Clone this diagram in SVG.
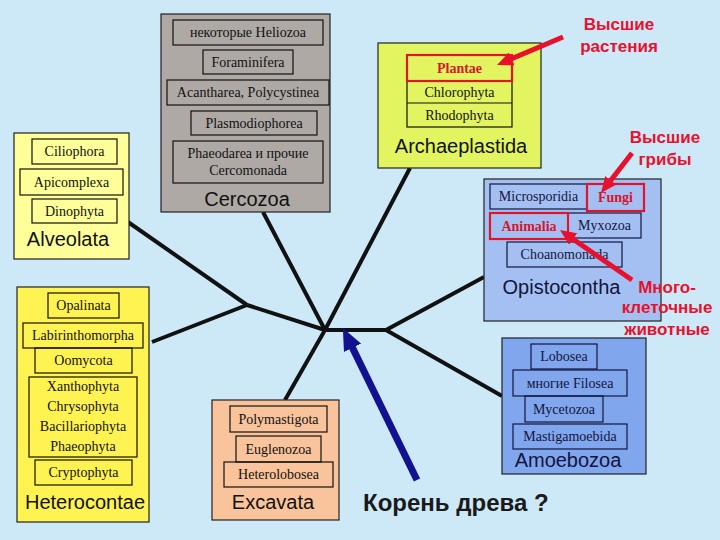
<svg xmlns="http://www.w3.org/2000/svg" width="720" height="540" viewBox="0 0 720 540">
<defs>
<style>
.bg{fill:#cde9f8}
.ob{stroke:#222;stroke-width:1.2}
.ib{fill:none;stroke:#111;stroke-width:1.2}
.ibn{fill:none;stroke:#14143c;stroke-width:1.2}
.rb{fill:none;stroke:#e0142a;stroke-width:2.2}
.t{font-family:"Liberation Serif","Times New Roman",serif;font-size:14px;fill:#111;text-anchor:middle}
.tn{fill:#14143c}
.tr{fill:#d8152c;font-weight:bold}
.big{font-family:"Liberation Sans",Arial,sans-serif;font-size:20px;fill:#111;text-anchor:middle}
.bign{fill:#14143c}
.ann{font-family:"Liberation Sans",Arial,sans-serif;font-size:17px;font-weight:bold;fill:#e8112d;text-anchor:middle}
.br{fill:none;stroke:#111;stroke-width:4}
.ra{fill:none;stroke:#e8112d;stroke-width:5;marker-end:url(#rh)}
.ba{fill:none;stroke:#121290;stroke-width:7;marker-end:url(#bh)}
</style>
<marker id="rh" markerUnits="userSpaceOnUse" markerWidth="16" markerHeight="14" viewBox="0 0 16 14" refX="6" refY="7" orient="auto"><path d="M0,0 L16,7 L0,14 z" fill="#e8112d"/></marker>
<marker id="bh" markerUnits="userSpaceOnUse" markerWidth="22" markerHeight="19" viewBox="0 0 22 19" refX="8" refY="9.5" orient="auto"><path d="M0,0 L22,9.5 L0,19 z" fill="#121290"/></marker>
</defs>
<rect class="bg" x="0" y="0" width="720" height="540"/>

<g id="connectors">
<line class="br" x1="128" y1="222" x2="247" y2="305"/>
<line class="br" x1="152" y1="342" x2="247" y2="305"/>
<line class="br" x1="247" y1="305" x2="325" y2="330"/>
<line class="br" x1="263" y1="212" x2="325" y2="330"/>
<line class="br" x1="410" y1="168" x2="325" y2="330"/>
<line class="br" x1="325" y1="330" x2="285" y2="400"/>
<line class="br" x1="325" y1="330" x2="386" y2="330"/>
<line class="br" x1="386" y1="330" x2="484" y2="277"/>
<line class="br" x1="386" y1="330" x2="502" y2="396"/>
<line class="ba" x1="417" y1="480" x2="349" y2="340.6"/>
</g>

<g id="cercozoa">
<rect class="ob" x="161" y="14" width="169" height="198" fill="#aea9a5"/>
<rect class="ib" x="173" y="20" width="150" height="25"/>
<text class="t" x="248" y="37">некоторые Heliozoa</text>
<rect class="ib" x="203" y="50" width="90" height="24"/>
<text class="t" x="248" y="66.5">Foraminifera</text>
<rect class="ib" x="167" y="80" width="162" height="25"/>
<text class="t" x="248" y="97">Acantharea, Polycystinea</text>
<rect class="ib" x="191" y="111" width="126" height="24"/>
<text class="t" x="254" y="127.5">Plasmodiophorea</text>
<rect class="ib" x="173" y="141" width="150" height="42"/>
<text class="t" x="248" y="158">Phaeodarea и прочие</text>
<text class="t" x="248" y="175">Cercomonada</text>
<text class="big" x="247" y="206">Cercozoa</text>
</g>

<g id="alveolata">
<rect class="ob" x="14" y="133" width="115" height="126" fill="#ffff99"/>
<rect class="ib" x="32" y="139" width="85" height="25"/>
<text class="t" x="74.5" y="156">Ciliophora</text>
<rect class="ib" x="20" y="169" width="103" height="26"/>
<text class="t" x="71.5" y="186.5">Apicomplexa</text>
<rect class="ib" x="32" y="199" width="85" height="24"/>
<text class="t" x="74.5" y="215.5">Dinophyta</text>
<text class="big" x="68" y="246">Alveolata</text>
</g>

<g id="archaeplastida">
<rect class="ob" x="378" y="43" width="163" height="125" fill="#e2f460"/>
<rect class="ib" x="407" y="81" width="105" height="46"/>
<line x1="407" y1="103" x2="512" y2="103" stroke="#111" stroke-width="1.2"/>
<rect class="rb" x="407" y="55" width="105" height="26"/>
<text class="t tr" x="459.5" y="72.5">Plantae</text>
<text class="t" x="459.5" y="96.5">Chlorophyta</text>
<text class="t" x="459.5" y="119.5">Rhodophyta</text>
<text class="big" x="461" y="153">Archaeplastida</text>
</g>

<g id="opistocontha">
<rect class="ob" x="484" y="179" width="177" height="142" fill="#a4c0f2"/>
<rect class="ibn" x="490" y="184" width="97" height="25"/>
<text class="t tn" x="538.5" y="201">Microsporidia</text>
<rect class="ibn" x="568" y="213" width="73" height="25"/>
<text class="t tn" x="604.5" y="230">Myxozoa</text>
<rect class="ibn" x="507" y="242" width="115" height="25"/>
<text class="t tn" x="564.5" y="259">Choanomonada</text>
<rect class="rb" x="587" y="184" width="57" height="27"/>
<text class="t tr" x="615.5" y="202">Fungi</text>
<rect class="rb" x="490" y="213" width="78" height="26"/>
<text class="t tr" x="529" y="230.5">Animalia</text>
<text class="big bign" x="561.5" y="294">Opistocontha</text>
</g>

<g id="heterocontae">
<rect class="ob" x="17" y="287" width="132" height="235" fill="#fff352"/>
<rect class="ib" x="48" y="293" width="71" height="25"/>
<text class="t" x="83.5" y="310">Opalinata</text>
<rect class="ib" x="23" y="323" width="120" height="25"/>
<text class="t" x="83" y="340">Labirinthomorpha</text>
<rect class="ib" x="35" y="348" width="97" height="25"/>
<text class="t" x="83.5" y="365">Oomycota</text>
<rect class="ib" x="29" y="377" width="108" height="80"/>
<text class="t" x="83" y="390.5">Xanthophyta</text>
<text class="t" x="83" y="410.5">Chrysophyta</text>
<text class="t" x="83" y="430.5">Bacillariophyta</text>
<text class="t" x="83" y="450.5">Phaeophyta</text>
<rect class="ib" x="35" y="460" width="97" height="25"/>
<text class="t" x="83.5" y="477">Cryptophyta</text>
<text class="big" x="85" y="509">Heterocontae</text>
</g>

<g id="excavata">
<rect class="ob" x="212" y="400" width="127" height="120" fill="#f9c49b"/>
<rect class="ib" x="230" y="406" width="97" height="26"/>
<text class="t" x="278.5" y="423.5">Polymastigota</text>
<rect class="ib" x="236" y="436" width="85" height="26"/>
<text class="t" x="278.5" y="453.5">Euglenozoa</text>
<rect class="ib" x="224" y="462" width="109" height="25"/>
<text class="t" x="278.5" y="479">Heterolobosea</text>
<text class="big" x="273" y="509">Excavata</text>
</g>

<g id="amoebozoa">
<rect class="ob" x="502" y="338" width="144" height="136" fill="#80a6ee"/>
<rect class="ibn" x="531" y="344" width="66" height="25"/>
<text class="t tn" x="564" y="361">Lobosea</text>
<rect class="ibn" x="513" y="370" width="114" height="26"/>
<text class="t tn" x="570" y="387.5">многие Filosea</text>
<rect class="ibn" x="525" y="396" width="78" height="26"/>
<text class="t tn" x="564" y="413.5">Mycetozoa</text>
<rect class="ibn" x="513" y="424" width="114" height="25"/>
<text class="t tn" x="570" y="441">Mastigamoebida</text>
<text class="big bign" x="568" y="467">Amoebozoa</text>
</g>

<g id="annotations">
<line class="ra" x1="563" y1="37" x2="506.2" y2="61.1"/>
<line class="ra" x1="632" y1="153" x2="607.1" y2="185.1"/>
<line class="ra" x1="632" y1="280" x2="568.2" y2="235.7"/>
<text class="ann" x="619" y="30">Высшие</text>
<text class="ann" x="619" y="52">растения</text>
<text class="ann" x="665" y="143">Высшие</text>
<text class="ann" x="665" y="165">грибы</text>
<text class="ann" x="667" y="293">Много-</text>
<text class="ann" x="667" y="313">клеточные</text>
<text class="ann" x="667" y="335">животные</text>
<text x="363" y="511" font-family="'Liberation Sans',Arial,sans-serif" font-size="24" font-weight="bold" fill="#1a1a1a">Корень древа ?</text>
</g>
</svg>
